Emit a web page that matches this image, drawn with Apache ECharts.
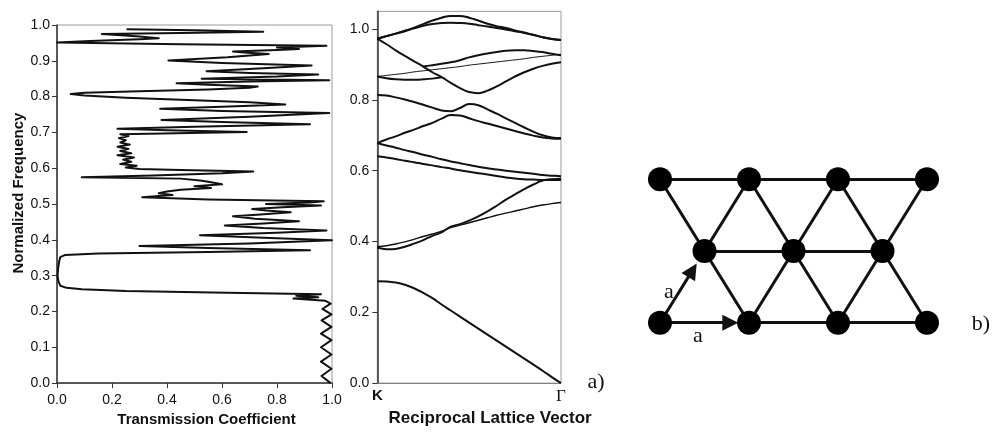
<!DOCTYPE html>
<html><head><meta charset="utf-8">
<script src="https://cdn.jsdelivr.net/npm/echarts@6/dist/echarts.min.js"></script>
<style>html,body{margin:0;padding:0;background:#fff}#c{width:998px;height:432px}</style>
</head><body><div id="c"></div>
<script>
// ---- Panel a), left: transmission coefficient vs normalized frequency ----
const freq = [0.000,0.020,0.040,0.060,0.080,0.100,0.120,0.138,0.157,0.175,0.192,0.207,0.222,0.230,0.236,0.240,0.244,0.248,0.252,0.257,0.262,0.266,0.272,0.285,0.300,0.320,0.340,0.352,0.358,0.362,0.366,0.371,0.377,0.383,0.390,0.399,0.406,0.413,0.420,0.426,0.433,0.440,0.446,0.452,0.459,0.466,0.471,0.477,0.482,0.486,0.491,0.496,0.500,0.504,0.508,0.513,0.519,0.525,0.530,0.535,0.540,0.545,0.550,0.555,0.562,0.566,0.571,0.575,0.580,0.586,0.591,0.595,0.598,0.602,0.607,0.612,0.618,0.624,0.630,0.636,0.642,0.648,0.654,0.660,0.666,0.672,0.678,0.684,0.690,0.695,0.701,0.706,0.710,0.716,0.723,0.729,0.735,0.744,0.754,0.760,0.766,0.772,0.778,0.784,0.790,0.797,0.803,0.807,0.811,0.815,0.820,0.825,0.828,0.833,0.837,0.842,0.846,0.850,0.856,0.862,0.866,0.871,0.879,0.887,0.894,0.901,0.910,0.919,0.923,0.926,0.930,0.933,0.937,0.942,0.946,0.951,0.955,0.960,0.963,0.968,0.972,0.975,0.978,0.981,0.985,0.988];
const trans = [0.995,0.962,0.998,0.960,0.998,0.960,0.998,0.960,0.998,0.962,0.998,0.965,0.995,0.975,0.86,0.95,0.87,0.96,0.62,0.25,0.09,0.035,0.012,0.005,0.002,0.004,0.008,0.012,0.03,0.15,0.55,0.92,0.55,0.30,0.70,1.0,0.75,0.52,0.80,0.98,0.75,0.61,0.75,0.88,0.72,0.64,0.74,0.85,0.76,0.71,0.82,0.96,0.76,0.92,0.97,0.55,0.31,0.42,0.37,0.40,0.45,0.56,0.50,0.60,0.55,0.52,0.45,0.09,0.35,0.60,0.714,0.45,0.30,0.25,0.29,0.23,0.27,0.24,0.28,0.22,0.27,0.23,0.26,0.22,0.265,0.23,0.25,0.225,0.26,0.23,0.69,0.40,0.22,0.50,0.92,0.60,0.38,0.70,0.99,0.60,0.375,0.60,0.83,0.70,0.50,0.25,0.10,0.05,0.10,0.30,0.55,0.70,0.73,0.55,0.435,0.70,0.99,0.526,0.80,0.95,0.70,0.544,0.75,0.926,0.60,0.405,0.62,0.77,0.68,0.64,0.80,0.88,0.80,0.98,0.45,0.0,0.12,0.30,0.37,0.30,0.22,0.163,0.45,0.75,0.50,0.253];
const transTicks = ['0.0','0.2','0.4','0.6','0.8','1.0'];

// ---- Panel a), right: band structure along K -> Gamma ----
const kPts = [0,0.05,0.1,0.15,0.2,0.25,0.3,0.35,0.4,0.45,0.5,0.55,0.6,0.65,0.7,0.75,0.8,0.85,0.9,0.95,1.0];
const kLabels = ['K','Γ'];
const band1 = [0.288,0.287,0.284,0.278,0.268,0.255,0.240,0.222,0.205,0.188,0.171,0.154,0.137,0.120,0.103,0.086,0.069,0.052,0.035,0.017,0.000];
const band2 = [0.385,0.388,0.393,0.399,0.406,0.414,0.421,0.429,0.439,0.446,0.453,0.460,0.467,0.474,0.480,0.486,0.492,0.498,0.503,0.507,0.510];
const band3 = [0.383,0.378,0.379,0.385,0.394,0.404,0.416,0.426,0.442,0.449,0.459,0.471,0.485,0.501,0.518,0.533,0.548,0.561,0.572,0.576,0.577];
const band4 = [0.641,0.637,0.633,0.628,0.624,0.619,0.615,0.610,0.606,0.601,0.597,0.593,0.589,0.585,0.581,0.578,0.576,0.575,0.574,0.574,0.574];
const band5 = [0.678,0.671,0.665,0.658,0.652,0.645,0.639,0.632,0.626,0.621,0.616,0.611,0.607,0.603,0.600,0.597,0.594,0.591,0.588,0.586,0.584];
const band6 = [0.678,0.688,0.697,0.707,0.716,0.726,0.735,0.747,0.757,0.756,0.748,0.740,0.733,0.726,0.719,0.712,0.705,0.699,0.694,0.691,0.690];
const band7 = [0.814,0.812,0.807,0.801,0.794,0.786,0.778,0.770,0.768,0.777,0.788,0.785,0.773,0.761,0.748,0.735,0.722,0.710,0.700,0.694,0.692];
const band8 = [0.866,0.861,0.858,0.857,0.857,0.858,0.860,0.864,null,null,null,null,null,null,null,null,null,null,null,null,null];
const band9 = [0.866,0.869,0.872,0.875,0.879,0.882,0.885,0.888,0.891,0.894,0.898,0.901,0.904,0.907,0.910,0.913,0.916,0.920,0.923,0.926,0.929];
const band10 = [null,null,null,null,null,0.894,0.898,0.902,0.906,0.912,0.920,0.926,0.931,0.935,0.939,0.940,0.940,0.938,0.935,0.930,0.926];
const band11 = [0.973,0.957,0.940,0.924,0.909,0.894,0.878,0.864,0.848,0.833,0.822,0.819,0.826,0.838,0.852,0.866,0.878,0.888,0.896,0.902,0.906];
const band12 = [0.973,0.980,0.987,0.994,1.002,1.009,1.014,1.017,1.018,1.017,1.015,1.011,1.007,1.003,0.999,0.994,0.989,0.983,0.977,0.972,0.969];
const band13 = [0.973,0.980,0.987,0.995,1.004,1.014,1.024,1.032,1.037,1.037,1.032,1.024,1.015,1.008,1.003,0.996,0.990,0.984,0.977,0.972,0.969];
const bandTicks = [0,0.2,0.4,0.6,0.8,1.0];

// ---- Panel b): triangular lattice (lattice units) ----
const nodeX = [0,1,2,3, 0.5,1.5,2.5, 0,1,2,3];
const nodeY = [2,2,2,2, 1,1,1, 0,0,0,0];
const bonds = [[0,1],[1,2],[2,3],[4,5],[5,6],[8,9],[9,10],[0,4],[1,4],[1,5],[2,5],[2,6],[3,6],[4,8],[5,8],[5,9],[6,9],[6,10]];
const arrows = [[7,4],[7,8]];
const arrowReach = [0.73,0.79];

const sans = "'Liberation Sans', Arial, Helvetica, sans-serif";
const serif = "'Liberation Serif', 'Times New Roman', serif";

const bandList = [band1,band2,band3,band4,band5,band6,band7,band8,band9,band10,band11,band12,band13];
const bandWidth = [2,1.4,2,2,2,2,2,2,1,2,2,2,2];
const bandSeries = bandList.map((b, j) => ({
  type:'line', xAxisIndex:1, yAxisIndex:1, smooth:0.4, showSymbol:false, silent:true,
  lineStyle:{color:'#111', width:bandWidth[j]},
  data: kPts.map((k,i)=>[k,b[i]]).filter(p=>p[1]!==null)
}));

const chart = echarts.init(document.getElementById('c'));
chart.setOption({
  animation:false,
  backgroundColor:'#fff',
  grid:[
    {left:57, top:25, width:275, height:361.5, show:true, borderColor:'#9a9a9a', borderWidth:1},
    {left:377.3, top:11.35, width:183.7, height:376.95, show:true, borderColor:'#9a9a9a', borderWidth:1},
    {left:615.5, top:143.5, width:356, height:215}
  ],
  xAxis:[
    {gridIndex:0, type:'value', min:0, max:1, interval:0.2,
     axisLine:{show:true, onZero:false, lineStyle:{color:'#333', width:1.5}},
     axisTick:{show:true, length:5, lineStyle:{color:'#333'}},
     axisLabel:{formatter:v=>transTicks[Math.round(v*5)], fontSize:14, color:'#111', margin:10, fontFamily:sans},
     splitLine:{show:false},
     name:'Transmission Coefficient', nameLocation:'middle', nameGap:25,
     nameTextStyle:{fontSize:15, fontWeight:'bold', color:'#111', fontFamily:sans, padding:[0,0,0,24]}},
    {gridIndex:1, type:'value', min:0, max:1, interval:1,
     axisLine:{show:true, onZero:false, lineStyle:{color:'#777', width:1, type:'dotted'}},
     axisTick:{show:false},
     axisLabel:{formatter:v=> v<0.5 ? '{k|'+kLabels[0]+'}' : '{g|'+kLabels[1]+'}', margin:5,
       rich:{k:{fontSize:15, fontWeight:'bold', fontFamily:sans, color:'#111'}, g:{fontSize:17, fontFamily:serif, color:'#111'}}},
     splitLine:{show:false},
     name:'Reciprocal Lattice Vector', nameLocation:'middle', nameGap:24,
     nameTextStyle:{fontSize:17, fontWeight:'bold', color:'#111', fontFamily:sans, padding:[0,0,0,42]}},
    {gridIndex:2, type:'value', min:-0.5, max:3.5, show:false}
  ],
  yAxis:[
    {gridIndex:0, type:'value', min:0, max:1, interval:0.1,
     axisLine:{show:true, onZero:false, lineStyle:{color:'#333', width:1.5}},
     axisTick:{show:true, length:5, lineStyle:{color:'#333'}},
     axisLabel:{formatter:v=>v.toFixed(1), fontSize:14, color:'#111', margin:7, fontFamily:sans},
     splitLine:{show:false},
     name:'Normalized Frequency', nameLocation:'middle', nameGap:31,
     nameTextStyle:{fontSize:15, fontWeight:'bold', color:'#111', fontFamily:sans, padding:[0,0,0,22]}},
    {gridIndex:1, type:'value', min:0, max:1.05, interval:0.2,
     axisLine:{show:true, onZero:false, lineStyle:{color:'#333', width:1.5}},
     axisTick:{show:true, length:5, lineStyle:{color:'#333'}, customValues:bandTicks},
     axisLabel:{customValues:bandTicks, formatter:v=> (Math.abs(v*5-Math.round(v*5))<1e-6) ? v.toFixed(1) : '', fontSize:14, color:'#111', margin:8, fontFamily:sans},
     splitLine:{show:false}},
    {gridIndex:2, type:'value', min:-0.5, max:2.5, show:false}
  ],
  series:[
    {type:'line', xAxisIndex:0, yAxisIndex:0, showSymbol:false, silent:true,
     lineStyle:{color:'#111', width:2, join:'round'},
     data: freq.map((f,i)=>[trans[i], f])},
    ...bandSeries,
    {type:'lines', coordinateSystem:'cartesian2d', xAxisIndex:2, yAxisIndex:2, silent:true, z:3,
     lineStyle:{color:'#111', width:3, opacity:1},
     data: bonds.map(b=>({coords:[[nodeX[b[0]],nodeY[b[0]]],[nodeX[b[1]],nodeY[b[1]]]]}))},
    {type:'lines', coordinateSystem:'cartesian2d', xAxisIndex:2, yAxisIndex:2, silent:true, z:3,
     symbol:['none','triangle'], symbolSize:16,
     lineStyle:{color:'#111', width:3, opacity:1},
     itemStyle:{color:'#111'},
     data: arrows.map((a,j)=>{
       const x0=nodeX[a[0]], y0=nodeY[a[0]], x1=nodeX[a[1]], y1=nodeY[a[1]], r=arrowReach[j];
       return {coords:[[x0,y0],[x0+(x1-x0)*r, y0+(y1-y0)*r]]};
     })},
    {type:'scatter', xAxisIndex:2, yAxisIndex:2, silent:true, z:5, symbolSize:24,
     itemStyle:{color:'#000', opacity:1},
     data: nodeX.map((x,i)=>[x,nodeY[i]])}
  ],
  graphic:[
    {type:'text', x:596, y:382, style:{text:'a)', fontSize:22, fontFamily:serif, fill:'#111', align:'center', verticalAlign:'middle'}},
    {type:'text', x:981, y:324, style:{text:'b)', fontSize:22, fontFamily:serif, fill:'#111', align:'center', verticalAlign:'middle'}},
    {type:'text', x:669, y:292, style:{text:'a', fontSize:22, fontFamily:serif, fill:'#111', align:'center', verticalAlign:'middle'}},
    {type:'text', x:698, y:336, style:{text:'a', fontSize:22, fontFamily:serif, fill:'#111', align:'center', verticalAlign:'middle'}}
  ]
});
</script></body></html>
